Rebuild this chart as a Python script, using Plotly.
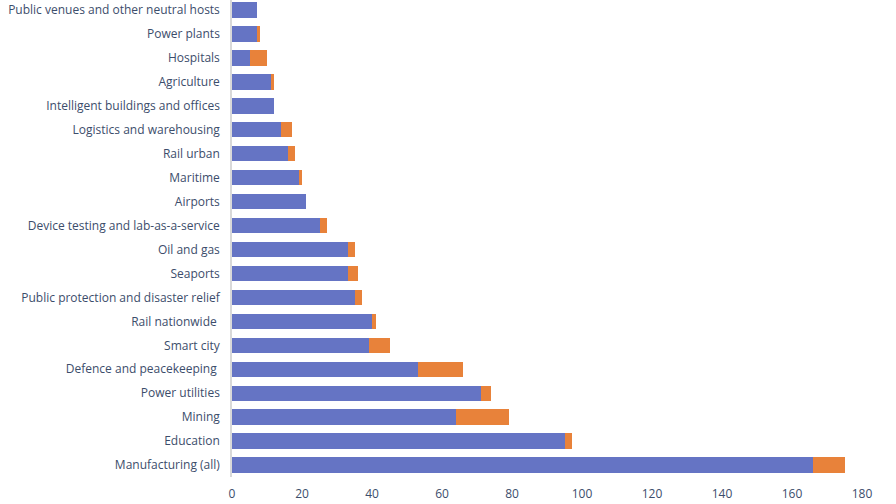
import plotly.graph_objects as go

# categories listed bottom to top (as plotted on the y axis)
categories = [
    "Manufacturing (all)",
    "Education",
    "Mining",
    "Power utilities",
    "Defence and peacekeeping\u00a0",
    "Smart city",
    "Rail nationwide\u00a0",
    "Public protection and disaster relief",
    "Seaports",
    "Oil and gas",
    "Device testing and lab-as-a-service",
    "Airports",
    "Maritime",
    "Rail urban",
    "Logistics and warehousing",
    "Intelligent buildings and offices",
    "Agriculture",
    "Hospitals",
    "Power plants",
    "Public venues and other neutral hosts",
]
series_a = [166, 95, 64, 71, 53, 39, 40, 35, 33, 33, 25, 21, 19, 16, 14, 12, 11, 5, 7, 7]
series_b = [9, 2, 15, 3, 13, 6, 1, 2, 3, 2, 2, 0, 1, 2, 3, 0, 1, 5, 1, 0]
x_ticks = [0, 20, 40, 60, 80, 100, 120, 140, 160, 180]

fig = go.Figure()
fig.add_trace(go.Bar(y=categories, x=series_a, orientation="h",
                     marker=dict(color="#6574C4", line_width=0)))
fig.add_trace(go.Bar(y=categories, x=series_b, orientation="h",
                     marker=dict(color="#E8823A", line_width=0)))

fig.update_layout(
    barmode="stack",
    bargap=0.36,
    width=896,
    height=504,
    margin=dict(l=232, r=34, t=0, b=27),
    showlegend=False,
    plot_bgcolor="white",
    paper_bgcolor="white",
    font=dict(family="Open Sans", size=12, color="#3C4D6B"),
)
fig.update_xaxes(
    range=[0, 180],
    tickvals=x_ticks,
    showgrid=False,
    zeroline=False,
    showline=False,
    ticks="",
    automargin=False,
    ticklabelstandoff=8,
    tickfont=dict(size=12, color="#3C4D6B"),
)
fig.update_yaxes(
    range=[-0.5, 19.42],
    showgrid=False,
    showline=True,
    linecolor="#D9D9D9",
    linewidth=1.5,
    ticks="",
    automargin=False,
    ticklabelstandoff=8,
    tickfont=dict(size=12, color="#3C4D6B"),
)

# drop the default body margin so the figure sits flush at the page corner
fig.write_html(
    "out.html",
    config={"displayModeBar": False},
    post_script="document.body.style.margin = '0';",
)
